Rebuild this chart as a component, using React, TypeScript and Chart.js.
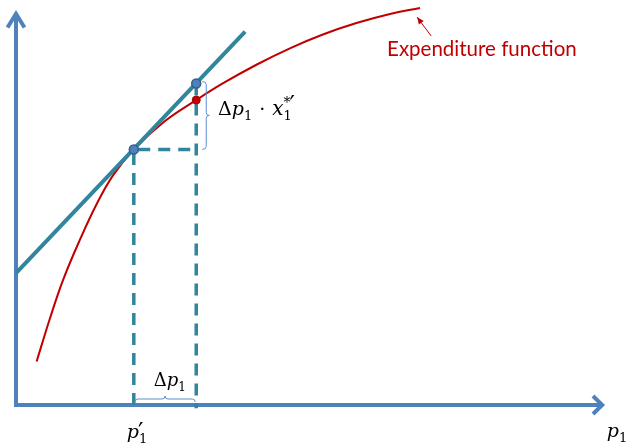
import React, { useEffect, useRef } from "react";
import { Chart, registerables } from "chart.js";

Chart.register(...registerables);

// ---- data ----
const curveP = [0.35, 0.58, 0.8, 1.09, 1.37, 1.65, 2.0, 2.53, 3.07, 3.51, 4.09, 4.65, 5.21, 5.78, 6.35, 6.86];
const curveE = [1.1, 2.21, 3.17, 4.2, 5.09, 5.82, 6.47, 7.19, 7.73, 8.14, 8.62, 9.03, 9.38, 9.67, 9.9, 10.05];
const tangentP = [0, 3.89];
const tangentE = [3.34, 9.45];
const p1Prime = 2.0;
const p1New = 3.06;
const eAtPrime = 6.47;
const tangentAtNew = 8.14;
const eAtNew = 7.72;
const xMax = 10;
const yMax = 10;

// label anchors (data coordinates)
const curveLabel = "Expenditure function";
const curveLabelPos = { x: 6.3, y: 8.84 };
const arrowFrom = { x: 7.05, y: 9.34 };
const arrowTo = { x: 6.81, y: 9.82 };
const deltaExpPos = { x: 3.43, y: 7.34 };
const deltaPPos = { x: 2.34, y: 0.48 };
const pPrimePos = { x: 1.88, y: -0.84 };
const axisLabelPos = { x: 10.03, y: -0.81 };

const AXIS = "#4F81BD";
const TEAL = "#31859C";
const RED = "#C00000";
const MATH_FONT = '"DejaVu Serif", serif';

type Part = { text: string; italic?: boolean; size: number; dy?: number; dx?: number; noAdvance?: boolean };

function drawMath(ctx: CanvasRenderingContext2D, x: number, y: number, parts: Part[]) {
  let cx = x;
  for (const p of parts) {
    ctx.font = `${p.italic ? "italic " : ""}${p.size}px ${MATH_FONT}`;
    const w = ctx.measureText(p.text).width;
    ctx.fillText(p.text, cx + (p.dx || 0), y + (p.dy || 0));
    if (!p.noAdvance) cx += w + (p.dx || 0);
  }
}

const diagramPlugin = {
  id: "diagram",
  beforeDatasetsDraw(chart: any) {
    const { ctx, scales } = chart;
    const X = (v: number) => scales.x.getPixelForValue(v);
    const Y = (v: number) => scales.y.getPixelForValue(v);
    const ox = X(0), oy = Y(0), tx = X(xMax), ty = Y(yMax);
    ctx.save();
    ctx.strokeStyle = AXIS;
    ctx.lineWidth = 4;
    ctx.lineCap = "butt";
    ctx.lineJoin = "miter";
    ctx.beginPath();
    ctx.moveTo(ox, oy + 2);
    ctx.lineTo(ox, ty + 4);
    ctx.stroke();
    ctx.beginPath();
    ctx.moveTo(ox - 2, oy);
    ctx.lineTo(tx - 3, oy);
    ctx.stroke();
    ctx.beginPath();
    ctx.moveTo(ox - 8.5, ty + 17.5);
    ctx.lineTo(ox, ty + 3.8);
    ctx.lineTo(ox + 8.5, ty + 17.5);
    ctx.stroke();
    ctx.beginPath();
    ctx.moveTo(tx - 12, oy - 9);
    ctx.lineTo(tx - 2.8, oy);
    ctx.lineTo(tx - 12, oy + 9);
    ctx.stroke();
    ctx.restore();
  },
  afterDatasetsDraw(chart: any) {
    const { ctx, scales } = chart;
    const X = (v: number) => scales.x.getPixelForValue(v);
    const Y = (v: number) => scales.y.getPixelForValue(v);
    ctx.save();
    // vertical brace
    ctx.strokeStyle = "#5B8FD0";
    ctx.lineWidth = 1;
    const bx = X(p1New) + 10;
    const top = Y(tangentAtNew) - 2;
    const bot = Y(eAtPrime);
    const mid = (top + bot) / 2;
    ctx.beginPath();
    ctx.moveTo(bx - 4, top);
    ctx.quadraticCurveTo(bx, top, bx, top + 3);
    ctx.lineTo(bx, mid - 3);
    ctx.quadraticCurveTo(bx, mid, bx + 3, mid);
    ctx.quadraticCurveTo(bx, mid, bx, mid + 3);
    ctx.lineTo(bx, bot - 3);
    ctx.quadraticCurveTo(bx, bot, bx - 4, bot);
    ctx.stroke();
    // horizontal brace
    const by = Y(0) - 6;
    const l = X(p1Prime) + 1;
    const r = X(p1New) - 1;
    const m = (l + r) / 2;
    ctx.beginPath();
    ctx.moveTo(l, by + 3);
    ctx.quadraticCurveTo(l, by, l + 3, by);
    ctx.lineTo(m - 3, by);
    ctx.quadraticCurveTo(m, by, m, by - 3);
    ctx.quadraticCurveTo(m, by, m + 3, by);
    ctx.lineTo(r - 3, by);
    ctx.quadraticCurveTo(r, by, r, by + 3);
    ctx.stroke();

    // annotation arrow
    const ax0 = X(arrowFrom.x), ay0 = Y(arrowFrom.y);
    const ax1 = X(arrowTo.x), ay1 = Y(arrowTo.y);
    ctx.strokeStyle = RED;
    ctx.fillStyle = RED;
    ctx.lineWidth = 1;
    ctx.beginPath();
    ctx.moveTo(ax0, ay0);
    ctx.lineTo(ax1, ay1);
    ctx.stroke();
    const ang = Math.atan2(ay1 - ay0, ax1 - ax0);
    ctx.beginPath();
    ctx.moveTo(ax1, ay1);
    ctx.lineTo(ax1 - 7 * Math.cos(ang) + 3 * Math.sin(ang), ay1 - 7 * Math.sin(ang) - 3 * Math.cos(ang));
    ctx.lineTo(ax1 - 7 * Math.cos(ang) - 3 * Math.sin(ang), ay1 - 7 * Math.sin(ang) + 3 * Math.cos(ang));
    ctx.closePath();
    ctx.fill();

    // curve label
    ctx.font = '20.5px Lato, "Open Sans", sans-serif';
    ctx.textBaseline = "alphabetic";
    ctx.textAlign = "left";
    ctx.fillText(curveLabel, X(curveLabelPos.x), Y(curveLabelPos.y));

    // math labels
    ctx.fillStyle = "#000";
    drawMath(ctx, X(deltaExpPos.x), Y(deltaExpPos.y), [
      { text: "Δ", size: 19 },
      { text: "p", italic: true, size: 19 },
      { text: "1", size: 13, dy: 5 },
      { text: "·", size: 19, dx: 7 },
      { text: "x", italic: true, size: 20, dx: 7 },
      { text: "1", size: 13, dy: 5, noAdvance: true },
      { text: "*", size: 14, dy: -8 },
      { text: "′", size: 24, dy: -2, dx: -1 },
    ]);
    drawMath(ctx, X(deltaPPos.x), Y(deltaPPos.y), [
      { text: "Δ", size: 18 },
      { text: "p", italic: true, size: 18 },
      { text: "1", size: 12, dy: 5 },
    ]);
    drawMath(ctx, X(pPrimePos.x), Y(pPrimePos.y), [
      { text: "p", italic: true, size: 19 },
      { text: "1", size: 13, dy: 5, noAdvance: true },
      { text: "′", size: 24, dy: 2, dx: -1 },
    ]);
    drawMath(ctx, X(axisLabelPos.x), Y(axisLabelPos.y), [
      { text: "p", italic: true, size: 19 },
      { text: "1", size: 13, dy: 5 },
    ]);
    ctx.restore();
  },
};

export default function App() {
  const ref = useRef<HTMLCanvasElement | null>(null);
  useEffect(() => {
    document.body.style.margin = "0";
    const canvas = ref.current;
    if (!canvas) return;
    const pts = (xs: number[], ys: number[]) => xs.map((x, i) => ({ x, y: ys[i] }));
    const chart = new Chart(canvas, {
      type: "line",
      data: {
        datasets: [
          {
            label: "blue points",
            data: [
              { x: p1Prime, y: eAtPrime },
              { x: p1New, y: tangentAtNew },
            ],
            showLine: false,
            pointRadius: 4.5,
            pointBackgroundColor: "#4F81BD",
            pointBorderColor: "#385D8A",
            pointBorderWidth: 1.5,
            order: 0,
            clip: false,
          } as any,
          {
            label: "red point",
            data: [{ x: p1New, y: eAtNew }],
            showLine: false,
            pointRadius: 4,
            pointBackgroundColor: RED,
            pointBorderColor: "#A00000",
            pointBorderWidth: 1,
            order: 0,
            clip: false,
          } as any,
          {
            label: "dash left",
            data: [
              { x: p1Prime, y: 0 },
              { x: p1Prime, y: eAtPrime },
              { x: p1New, y: eAtPrime },
            ],
            borderColor: TEAL,
            borderWidth: 3.5,
            borderDash: [12, 8],
            pointRadius: 0,
            tension: 0,
            order: 1,
            clip: false,
          } as any,
          {
            label: "dash right",
            data: [
              { x: p1New, y: tangentAtNew },
              { x: p1New, y: -0.08 },
            ],
            borderColor: TEAL,
            borderWidth: 3.5,
            borderDash: [12, 8],
            pointRadius: 0,
            tension: 0,
            order: 1,
            clip: false,
          } as any,
          {
            label: "tangent",
            data: pts(tangentP, tangentE),
            borderColor: TEAL,
            borderWidth: 4,
            pointRadius: 0,
            tension: 0,
            order: 2,
            clip: false,
          } as any,
          {
            label: "Expenditure function",
            data: pts(curveP, curveE),
            borderColor: RED,
            borderWidth: 2,
            pointRadius: 0,
            tension: 0.4,
            order: 3,
            clip: false,
          } as any,
        ],
      },
      options: {
        responsive: false,
        animation: false,
        events: [],
        layout: { padding: { left: 16, top: 10, right: 26, bottom: 38 } },
        plugins: { legend: { display: false }, tooltip: { enabled: false } },
        scales: {
          x: { type: "linear", min: 0, max: xMax, display: false },
          y: { type: "linear", min: 0, max: yMax, display: false },
        },
      },
      plugins: [diagramPlugin],
    });
    return () => chart.destroy();
  }, []);
  return (
    <div style={{ width: 631, height: 443 }}>
      <canvas ref={ref} width={631} height={443} style={{ display: "block" }} />
    </div>
  );
}
